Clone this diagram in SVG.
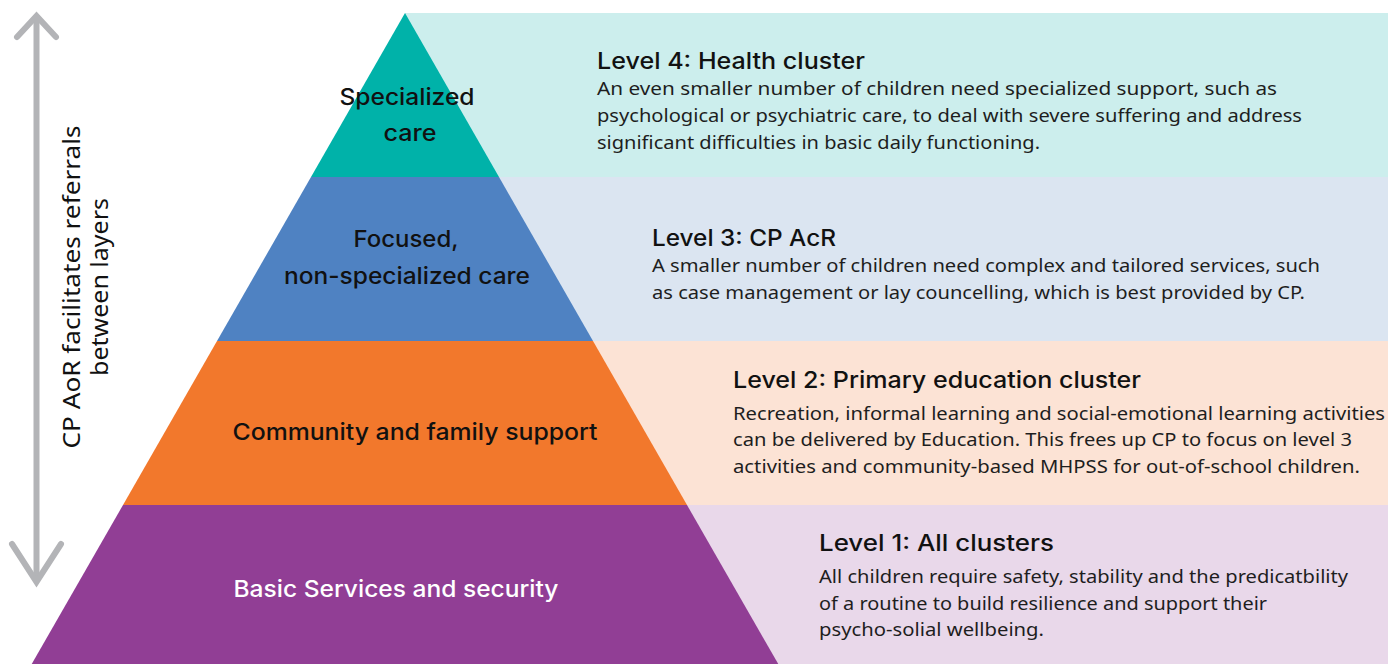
<svg xmlns="http://www.w3.org/2000/svg" width="1388" height="664" viewBox="0 0 1388 664">
<style>
.h{font-family:Inter,Roboto,"Noto Sans",sans-serif;font-weight:500;font-size:23px;fill:#111}
.b{font-family:"Noto Sans",Roboto,sans-serif;font-size:18px;fill:#1e1e1e}
.p{font-family:Inter,Roboto,"Noto Sans",sans-serif;font-weight:500;font-size:23px;fill:#111;text-anchor:middle}
.v{font-family:"Noto Sans","Open Sans",sans-serif;font-size:24px;fill:#111;text-anchor:middle}
.arr{fill:none;stroke:#b3b4b7;stroke-width:6;stroke-linecap:round;stroke-linejoin:miter}
</style>
<rect width="1388" height="664" fill="#fff"/>
<g id="bands">
<rect x="405" y="13" width="983" height="164" fill="#cceeed"/>
<rect x="405" y="177" width="983" height="164" fill="#dbe5f1"/>
<rect x="405" y="341" width="983" height="164" fill="#fce3d5"/>
<rect x="405" y="505" width="983" height="159" fill="#e9d8ea"/>
</g>
<g id="level4">
<polygon points="405,13 499,177 311,177" fill="#00b2a9"/>
<text class="p" x="407" y="105" textLength="135" lengthAdjust="spacingAndGlyphs">Specialized</text>
<text class="p" x="410" y="141" textLength="53" lengthAdjust="spacingAndGlyphs">care</text>
<text class="h" x="597" y="69" textLength="268" lengthAdjust="spacingAndGlyphs">Level 4: Health cluster</text>
<text class="b" x="597" y="95" textLength="680" lengthAdjust="spacingAndGlyphs">An even smaller number of children need specialized support, such as</text>
<text class="b" x="597" y="122" textLength="705" lengthAdjust="spacingAndGlyphs">psychological or psychiatric care, to deal with severe suffering and address</text>
<text class="b" x="597" y="149" textLength="443" lengthAdjust="spacingAndGlyphs">significant difficulties in basic daily functioning.</text>
</g>
<g id="level3">
<polygon points="311,177 499,177 593,341 217,341" fill="#4f82c2"/>
<text class="p" x="406" y="247" textLength="105" lengthAdjust="spacingAndGlyphs">Focused,</text>
<text class="p" x="407" y="284" textLength="246" lengthAdjust="spacingAndGlyphs">non-specialized care</text>
<text class="h" x="652" y="246" textLength="184" lengthAdjust="spacingAndGlyphs">Level 3: CP AcR</text>
<text class="b" x="652" y="272" textLength="668" lengthAdjust="spacingAndGlyphs">A smaller number of children need complex and tailored services, such</text>
<text class="b" x="652" y="299" textLength="653" lengthAdjust="spacingAndGlyphs">as case management or lay councelling, which is best provided by CP.</text>
</g>
<g id="level2">
<polygon points="217,341 593,341 687,505 123,505" fill="#f2782c"/>
<text class="p" x="415" y="440" textLength="365" lengthAdjust="spacingAndGlyphs">Community and family support</text>
<text class="h" x="733" y="388" textLength="408" lengthAdjust="spacingAndGlyphs">Level 2: Primary education cluster</text>
<text class="b" x="733" y="420" textLength="652" lengthAdjust="spacingAndGlyphs">Recreation, informal learning and social-emotional learning activities</text>
<text class="b" x="733" y="446" textLength="619" lengthAdjust="spacingAndGlyphs">can be delivered by Education. This frees up CP to focus on level 3</text>
<text class="b" x="733" y="473" textLength="627" lengthAdjust="spacingAndGlyphs">activities and community-based MHPSS for out-of-school children.</text>
</g>
<g id="level1">
<polygon points="123,505 687,505 780,667 30,667" fill="#913e95"/>
<text class="p" x="396" y="597" style="fill:#fff" textLength="325" lengthAdjust="spacingAndGlyphs">Basic Services and security</text>
<text class="h" x="819" y="551" textLength="235" lengthAdjust="spacingAndGlyphs">Level 1: All clusters</text>
<text class="b" x="819" y="583" textLength="529" lengthAdjust="spacingAndGlyphs">All children require safety, stability and the predicatbility</text>
<text class="b" x="819" y="610" textLength="448" lengthAdjust="spacingAndGlyphs">of a routine to build resilience and support their</text>
<text class="b" x="819" y="636" textLength="225" lengthAdjust="spacingAndGlyphs">psycho-solial wellbeing.</text>
</g>
<g id="connectors">
<line class="arr" x1="36.5" y1="18" x2="36.5" y2="580"/>
<polyline class="arr" points="17,37 36.5,16 56,37"/>
<polyline class="arr" points="12,544 36.5,582 61,544"/>
</g>
<g id="side-label">
<text class="v" transform="translate(80,287) rotate(-90)" textLength="323" lengthAdjust="spacingAndGlyphs">CP AoR facilitates referrals</text>
<text class="v" transform="translate(108,287) rotate(-90)" textLength="178" lengthAdjust="spacingAndGlyphs">between layers</text>
</g>
</svg>
